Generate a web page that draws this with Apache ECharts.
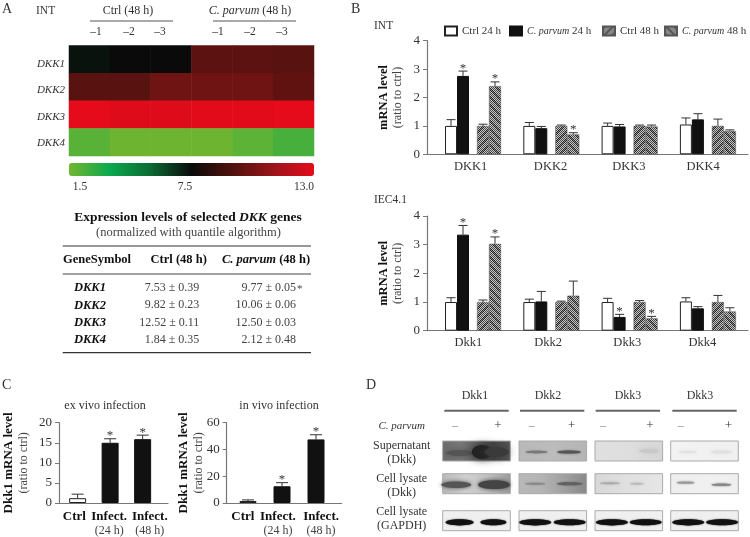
<!DOCTYPE html>
<html><head><meta charset="utf-8">
<style>html,body{margin:0;padding:0;background:#fff}#c{width:750px;height:537px}</style>
<script src="https://cdn.jsdelivr.net/npm/echarts@6/dist/echarts.min.js"></script>
</head><body><div id="c"></div>
<script>
// ---------- data ----------
const heatGenes = ['DKK1','DKK2','DKK3','DKK4'];
const heatSamples = ['Ctrl-1','Ctrl-2','Ctrl-3','Cp-1','Cp-2','Cp-3'];
const heatDKK1 = [7.1,7.25,7.25,9.5,9.5,9.4];
const heatDKK2 = [9.4,9.4,10,10,10,9.6];
const heatDKK3 = [13,12.8,12.8,12.9,12.9,13];
const heatDKK4 = [2.0,1.6,1.6,1.6,1.9,2.3];
const tableRows = [['DKK1','7.53 ± 0.39','9.77 ± 0.05'],['DKK2','9.82 ± 0.23','10.06 ± 0.06'],['DKK3','12.52 ± 0.11','12.50 ± 0.03'],['DKK4','1.84 ± 0.35','2.12 ± 0.48']];
const seriesNames = ['Ctrl 24 h','C. parvum 24 h','Ctrl 48 h','C. parvum 48 h'];
const intGenes = ['DKK1','DKK2','DKK3','DKK4'];
const intCtrl24 = [1.0,1.0,1.0,1.05];  const intCtrl24Err = [1.22,1.12,1.1,1.28];
const intCp24   = [2.76,0.92,0.98,1.23]; const intCp24Err = [2.93,0.98,1.05,1.43];
const intCtrl48 = [1.0,1.0,1.0,1.0];   const intCtrl48Err = [1.06,1.03,1.03,1.24];
const intCp48   = [2.4,0.7,0.98,0.82]; const intCp48Err = [2.55,0.76,1.03,0.86];
const intStars  = [[0,0,0,0],[1,0,0,0],[0,0,0,0],[1,1,0,0]];
const iecGenes = ['Dkk1','Dkk2','Dkk3','Dkk4'];
const iecCtrl24 = [1.0,1.0,1.0,1.02];  const iecCtrl24Err = [1.15,1.1,1.13,1.15];
const iecCp24   = [3.35,1.02,0.48,0.78]; const iecCp24Err = [3.67,1.37,0.57,0.84];
const iecCtrl48 = [1.0,1.0,1.0,1.0];   const iecCtrl48Err = [1.07,1.03,1.05,1.23];
const iecCp48   = [3.03,1.22,0.43,0.67]; const iecCp48Err = [3.27,1.73,0.5,0.8];
const iecStars  = [[0,0,0,0],[1,0,1,0],[0,0,0,0],[1,0,1,0]];
const infectLabels = [['Ctrl',''],['Infect.','(24 h)'],['Infect.','(48 h)']];
const exVivo = [1.2,15,15.9];   const exVivoErr = [2.2,16,16.9];
const inVivo = [1.5,12.5,47.5]; const inVivoErr = [2.3,15.2,51];
const infectStars = [0,1,1];
const blotTitles = ['Dkk1','Dkk2','Dkk3','Dkk3'];

// ---------- helpers ----------
const F = '"Liberation Serif", serif';
const INK = '#333';
function pattern(dir){
  const s=8, c=document.createElement('canvas'); c.width=c.height=s;
  const x=c.getContext('2d');
  for(let i=0;i<s;i++)for(let j=0;j<s;j++){
    const stripe=((dir>0?(i+j):(i-j+s))%8)<3;
    const chk=(i+j)%2===0;
    x.fillStyle=chk?(stripe?'#222':'#444'):(stripe?'#888':'#c8c8c8');
    x.fillRect(i,j,1,1);
  }
  return {image:c,repeat:'repeat'};
}
const styles = [
  {color:'#fff',borderColor:'#222',borderWidth:1},
  {color:'#111',borderColor:'#111',borderWidth:1},
  {color:pattern(1),borderColor:'#555',borderWidth:0.5},
  {color:pattern(-1),borderColor:'#555',borderWidth:0.5}
];
const axisStyle = {lineStyle:{color:'#777',width:1.2}};
function errRenderer(off,capW){
  return function(p,api){
    const a=api.coord([api.value(0),api.value(1)]), b=api.coord([api.value(0),api.value(2)]);
    const cx=a[0]+off, st={stroke:'#333',lineWidth:1};
    const ch=[
      {type:'line',shape:{x1:cx,y1:a[1],x2:cx,y2:b[1]},style:st},
      {type:'line',shape:{x1:cx-capW/2,y1:b[1],x2:cx+capW/2,y2:b[1]},style:st}
    ];
    if(api.value(3)) ch.push({type:'text',x:cx,y:b[1]-3,style:{text:'*',font:'13px '+F,fill:INK,align:'center',verticalAlign:'middle'}});
    return {type:'group',children:ch};
  };
}
// value-axis extent that puts group #1 at px "first" with the given px spacing
function xRange(left,width,first,spacing){
  const min=1-(first-left)/spacing;
  return {min:min,max:min+width/spacing};
}
const grids=[], xAxes=[], yAxes=[], series=[];
function yName(top,sub,cls){return `{${cls}|${top}}\n{n|${sub}}`;}
function panel(g,xr,labels,yMax,yInt,labelFn,nameTxt,nameGap,customVals,rich,labelMargin){
  const i=grids.length;
  grids.push(g);
  xAxes.push({gridIndex:i,type:'value',min:xr.min,max:xr.max,splitLine:{show:false},axisLine:axisStyle,axisTick:{show:false},
    axisLabel:{customValues:customVals,formatter:labelFn,color:INK,fontFamily:F,fontSize:12.5,margin:labelMargin,rich:rich,hideOverlap:false}});
  yAxes.push({gridIndex:i,type:'value',min:0,max:yMax,interval:yInt,splitLine:{show:false},axisLine:{show:true,...axisStyle},
    axisTick:{show:true,length:4,lineStyle:{color:'#777'}},axisLabel:{color:INK,fontFamily:F,fontSize:13,margin:7},
    name:nameTxt,nameLocation:'middle',nameRotate:90,nameGap:nameGap,nameMoveOverlap:false,
    nameTextStyle:{color:INK,fontFamily:F,lineHeight:14,rich:{b:{fontWeight:'bold',fontSize:12.5,fontFamily:F,color:'#111',lineHeight:14},c:{fontWeight:'bold',fontSize:13,fontFamily:F,color:'#111',lineHeight:16},n:{fontSize:12,fontFamily:F,color:'#444',lineHeight:14}}}});
  return i;
}
const SLOT=12, SPACER=8;
const offsets=[-22,-10,10,22];
function groupedPanel(top,height,cats,vals,errs,stars,labelPos){
  const xr=xRange(427,321,473,78.3);
  const i=panel({left:427,top:top,width:321,height:height},xr,cats,4,1,v=>cats[Math.round(v)-1],yName('mRNA level','(ratio to ctrl)','b'),22,labelPos,undefined,6);
  const common={xAxisIndex:i,yAxisIndex:i,type:'bar',barGap:0,barWidth:SLOT};
  [0,1,'s',2,3].forEach(k=>{
    if(k==='s'){series.push({...common,name:'spacer',barWidth:SPACER,data:[],silent:true});return;}
    series.push({...common,name:seriesNames[k],itemStyle:styles[k],data:vals[k].map((v,j)=>[j+1,v])});
  });
  offsets.forEach((off,k)=>{
    series.push({type:'custom',xAxisIndex:i,yAxisIndex:i,clip:false,silent:true,name:seriesNames[k]+' error',
      renderItem:errRenderer(off,9),data:vals[k].map((v,j)=>[j+1,v,errs[k][j],stars[k][j]])});
  });
}
function singlePanel(left,width,first,spacing,yMax,yInt,vals,errs,nameGap,labelPos){
  const xr=xRange(left,width,first,spacing);
  const rich={b:{fontWeight:'bold',fontSize:13,fontFamily:F,color:'#111',lineHeight:15},n:{fontSize:12,fontFamily:F,color:'#444',lineHeight:14}};
  const fn=v=>{const l=infectLabels[Math.round(v)-1];return l[1]?`{b|${l[0]}}\n{n|${l[1]}}`:`{b|${l[0]}}\n{n| }`;};
  const i=panel({left:left,top:422.7,width:width,height:80.6},xr,infectLabels,yMax,yInt,fn,yName('Dkk1 mRNA level','(ratio to ctrl)','c'),nameGap,labelPos,rich,6);
  series.push({type:'bar',xAxisIndex:i,yAxisIndex:i,barWidth:17,name:'Dkk1',data:vals.map((v,j)=>({value:[j+1,v],itemStyle:j===0?styles[0]:styles[1]}))});
  series.push({type:'custom',xAxisIndex:i,yAxisIndex:i,clip:false,silent:true,name:'Dkk1 error',renderItem:errRenderer(0,12),
    data:vals.map((v,j)=>[j+1,v,errs[j],infectStars[j]])});
}

// heatmap
grids.push({left:69,top:45.5,width:245,height:110.5});
xAxes.push({gridIndex:0,type:'category',data:heatSamples,show:false});
yAxes.push({gridIndex:0,type:'category',data:heatGenes,inverse:true,show:false});
const heatData=[];
[heatDKK1,heatDKK2,heatDKK3,heatDKK4].forEach((row,r)=>row.forEach((v,c)=>heatData.push([c,r,v])));
series.push({type:'heatmap',xAxisIndex:0,yAxisIndex:0,data:heatData,silent:true,progressive:0});

groupedPanel(40.7,113.6,intGenes,[intCtrl24,intCp24,intCtrl48,intCp48],[intCtrl24Err,intCp24Err,intCtrl48Err,intCp48Err],intStars,[0.97,1.99,2.99,3.94]);
groupedPanel(216,114.7,iecGenes,[iecCtrl24,iecCp24,iecCtrl48,iecCp48],[iecCtrl24Err,iecCp24Err,iecCtrl48Err,iecCp48Err],iecStars,[0.94,1.96,2.97,3.93]);
singlePanel(55,113,74.3,33.7,20,5,exVivo,exVivoErr,28,[0.9,1.97,3.22]);
singlePanel(226.7,115,248,34,60,20,inVivo,inVivoErr,21,[0.85,1.88,3.15]);

// ---------- graphic text, table, blots ----------
const gfx=[];
function T(x,y,text,o){o=o||{};
  gfx.push({type:'text',x:x,y:y,silent:true,style:{text:text,fontFamily:F,fontSize:o.size||12,fontWeight:o.weight||'normal',fontStyle:o.style||'normal',
    fill:o.fill||INK,align:o.align||'left',verticalAlign:'middle',textAlign:o.align||'left',textVerticalAlign:'middle',rich:o.rich}});
}
function L(x1,y,x2,w,c){gfx.push({type:'line',silent:true,shape:{x1:x1,y1:y,x2:x2,y2:y},style:{stroke:c||'#444',lineWidth:w||1}});}
T(2,9,'A',{size:14});T(351,9,'B',{size:14});T(2,385,'C',{size:14});T(366,385,'D',{size:14});
T(36,11,'INT',{size:11.5});T(374,26,'INT',{size:11.5});T(374,200,'IEC4.1',{size:11.5});
T(128,11,'Ctrl (48 h)',{align:'center'});
T(250,11,'{i|C. parvum} (48 h)',{align:'center',rich:{i:{fontStyle:'italic',fontFamily:F,fontSize:12,fill:INK,color:INK}}});
L(90,21,173,1,'#555');L(213,21,296,1,'#555');
[96,129,160,218,250,282].forEach((x,i)=>T(x,32,'–'+heatSamples[i].slice(-1),{align:'center',size:11.5}));
[64,90,116.7,142.7].forEach((y,i)=>T(65,y,heatGenes[i],{align:'right',style:'italic',size:11}));
T(80,187,'1.5',{align:'center',size:11.5});T(185,187,'7.5',{align:'center',size:11.5});T(304,187,'13.0',{align:'center',size:11.5});
const bi={fontStyle:'italic',fontWeight:'bold',fontFamily:F,fontSize:13.5,color:'#111'};
T(188,217.7,'Expression levels of selected {i|DKK} genes',{align:'center',size:13.5,weight:'bold',fill:'#111',rich:{i:bi}});
T(188.5,232.7,'(normalized with quantile algorithm)',{align:'center',size:12.5,fill:'#444'});
L(62.7,246,311,1.2,'#333');L(62.7,274,311,1,'#444');L(62.7,352.7,311,1.2,'#333');
T(63,259.3,'GeneSymbol',{size:12.5,weight:'bold',fill:'#111'});
T(178.7,259.3,'Ctrl (48 h)',{align:'center',size:12.5,weight:'bold',fill:'#111'});
T(266,259.3,'{i|C. parvum} (48 h)',{align:'center',size:12.5,weight:'bold',fill:'#111',rich:{i:{...bi,fontSize:12.5}}});
[287.7,305.3,322.7,340].forEach((y,i)=>{
  T(74,y,tableRows[i][0],{size:12.5,weight:'bold',style:'italic',fill:'#111'});
  T(199.3,y,tableRows[i][1],{align:'right',fill:'#444'});
  T(296,y,tableRows[i][2],{align:'right',fill:'#444'});
});
T(297,289,'*',{size:11,fill:'#444'});
T(105,405.7,'ex vivo infection',{align:'center',size:12});
T(279,405.7,'in vivo infection',{align:'center',size:12});

// blots
[[444.3,508.7,475],[520,584.3,548],[595.7,660,628],[672.3,736.7,700]].forEach((c,i)=>{
  L(c[0],410.7,c[1],2,'#666');T(c[2],395.7,blotTitles[i],{align:'center',size:12});
});
T(401.7,425.7,'C. parvum',{align:'center',style:'italic',size:11});
[455,531.7,603,680.7].forEach(x=>T(x,425.7,'–',{align:'center',size:12,fill:'#888'}));
[498,571.7,650,728.3].forEach(x=>T(x,425.7,'+',{align:'center',size:13}));
[[446,'Supernatant'],[460,'(Dkk)'],[479,'Cell lysate'],[493,'(Dkk)'],[511.7,'Cell lysate'],[526,'(GAPDH)']].forEach(r=>T(401.7,r[0],r[1],{align:'center',size:12}));
const colX=[442.7,519,595,670.7], colW=67.6;
const rowY=[441,473.7,510.7], rowH=20;
function blot(c,r,stops,bands){
  const x=colX[c], y=rowY[r];
  gfx.push({type:'rect',silent:true,shape:{x:x,y:y,width:colW,height:rowH},style:{fill:{type:'linear',x:0,y:0,x2:1,y2:0,colorStops:stops.map((s,i)=>({offset:i/(stops.length-1),color:s}))},stroke:'#aaa',lineWidth:1}});
  bands.forEach(b=>gfx.push({type:'ellipse',silent:true,shape:{cx:x+b[0]*colW,cy:y+b[1]*rowH,rx:b[2],ry:b[3]},style:{fill:b[4],shadowBlur:b[5],shadowColor:b[4],opacity:b[6]||1}}));
}
blot(0,0,['#6a6a6a','#777','#666','#444','#555'],[[0.25,0.6,14,3,'#555',6],[0.58,0.55,10,7,'#222',8],[0.8,0.55,12,5,'#3a3a3a',8]]);
blot(1,0,['#b8b8b8','#bcbcbc','#b4b4b4'],[[0.26,0.55,11,1.2,'#777',2],[0.74,0.55,12,1.6,'#555',2]]);
blot(2,0,['#e0e0e0','#dedede','#d6d6d6'],[[0.8,0.5,10,2,'#c8c8c8',4]]);
blot(3,0,['#f3f3f3','#f1f1f1','#f0f0f0'],[[0.25,0.55,9,1,'#e0e0e0',3],[0.75,0.55,11,1.5,'#e0e0e0',3]]);
blot(0,1,['#b8b8b8','#d0d0d0','#c0c0c0','#999'],[[0.2,0.55,15,3.2,'#555',4],[0.76,0.55,16,4.4,'#444',4]]);
blot(1,1,['#b8b8b8','#b4b4b4','#a0a0a0','#888'],[[0.24,0.5,10,1,'#888',2],[0.75,0.5,13,1.5,'#606060',2]]);
blot(2,1,['#d8d8d8','#e0e0e0','#e6e6e6'],[[0.22,0.48,10,1,'#aaa',2.5],[0.62,0.5,7,1,'#bbb',2.5]]);
blot(3,1,['#eee','#f0f0f0','#efefef'],[[0.22,0.45,9,1.1,'#999',2],[0.75,0.55,10,1.3,'#888',2]]);
[[0.25,0.75],[0.24,0.75],[0.25,0.75],[0.26,0.76]].forEach((p,c)=>{
  blot(c,2,['#f0f0f0','#efefef','#f0f0f0'],[[p[0],0.58,c===0?14:16,3.1,'#111',1.5],[p[1],0.58,c===0?13:16,3,'#111',1.5]]);
});

const legendLeft=[444,509,602,664];
const legends=seriesNames.map((n,i)=>({left:legendLeft[i],top:25.5,padding:0,itemWidth:12,itemHeight:9,icon:'rect',data:[n],selectedMode:false,
  formatter:s=>s.startsWith('C. parvum')?`{i|C. parvum}{n|${s.slice(9)}}`:s,
  textStyle:{color:INK,fontFamily:F,fontSize:11,rich:{i:{fontStyle:'italic',fontFamily:F,fontSize:10,color:INK},n:{fontFamily:F,fontSize:11,color:INK}}}}));

const chart=echarts.init(document.getElementById('c'),null,{renderer:'canvas'});
chart.setOption({
  animation:false,backgroundColor:'#fff',
  grid:grids,xAxis:xAxes,yAxis:yAxes,series:series,legend:legends,graphic:{elements:gfx},
  visualMap:{type:'continuous',seriesIndex:0,min:1.5,max:13,orient:'horizontal',left:69,top:163,padding:0,itemWidth:13,itemHeight:245,calculable:false,hoverLink:false,text:null,
    inRange:{color:['#72b62f','#0aa84e','#0c6a34','#0a0a0a','#4f120e','#9a141a','#e60b1a']}},
  tooltip:{show:false}
});
</script></body></html>
